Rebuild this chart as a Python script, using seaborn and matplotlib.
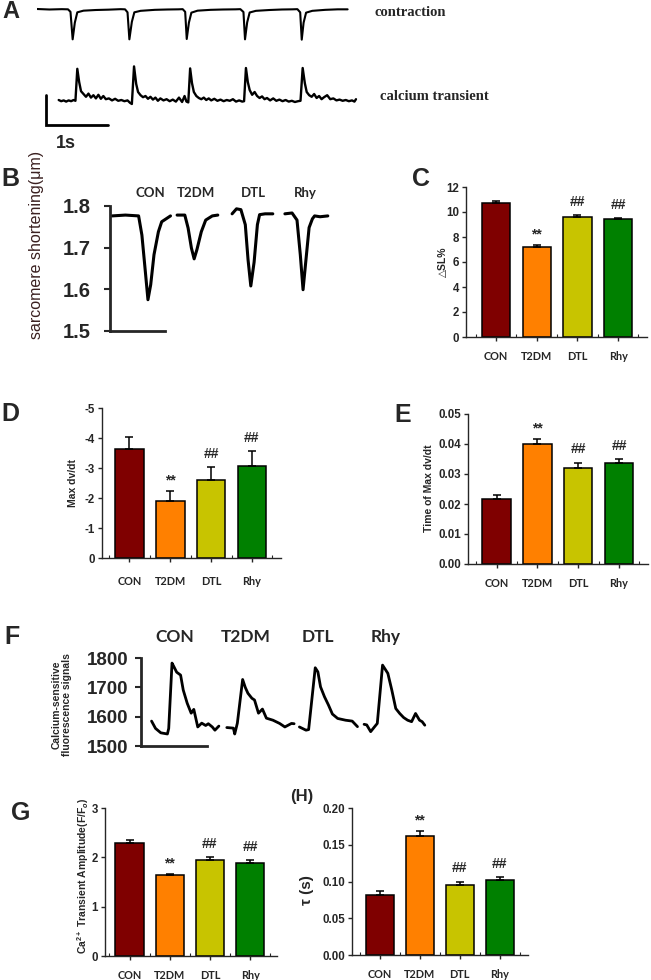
import numpy as np
import pandas as pd
import matplotlib
matplotlib.use("Agg")
import matplotlib.pyplot as plt
import seaborn as sns

W, H = 651, 980

groups = ["CON", "T2DM", "DTL", "Rhy"]
colors = ["#7f0000", "#ff8000", "#c8c400", "#008000"]
marks = ["", "**", "##", "##"]

# bar panels: mean and SEM
sl_pct = [10.72, 7.18, 9.57, 9.42]
sl_err = [0.15, 0.18, 0.21, 0.10]
max_dvdt = [-3.63, -1.90, -2.60, -3.08]
max_dvdt_err = [0.40, 0.33, 0.44, 0.49]
t_max_dvdt = [0.0216, 0.0399, 0.0321, 0.0337]
t_max_dvdt_err = [0.0014, 0.0017, 0.0017, 0.0014]
ca_amp = [2.30, 1.64, 1.95, 1.89]
ca_amp_err = [0.06, 0.025, 0.055, 0.055]
tau = [0.081, 0.162, 0.095, 0.1015]
tau_err = [0.006, 0.007, 0.005, 0.005]

# panel A raw traces (time in s)
contr_t = [0.00, 0.20, 0.40, 0.50, 0.54, 0.575, 0.61, 0.65, 0.75, 0.95,
           1.15, 1.35, 1.42, 1.46, 1.49, 1.53, 1.57, 1.67, 1.90, 2.10,
           2.28, 2.35, 2.39, 2.415, 2.45, 2.49, 2.59, 2.80, 3.00, 3.20,
           3.28, 3.33, 3.355, 3.39, 3.43, 3.53, 3.75, 3.95, 4.12, 4.20,
           4.245, 4.27, 4.30, 4.34, 4.44, 4.65, 4.85, 5.01]
contr_y = [1.782, 1.779, 1.781, 1.780, 1.765, 1.600, 1.700, 1.762, 1.772, 1.776,
           1.778, 1.781, 1.780, 1.762, 1.600, 1.705, 1.762, 1.771, 1.777, 1.779,
           1.780, 1.781, 1.765, 1.602, 1.700, 1.760, 1.772, 1.777, 1.779, 1.780,
           1.781, 1.764, 1.600, 1.702, 1.761, 1.771, 1.776, 1.779, 1.780, 1.781,
           1.762, 1.598, 1.700, 1.760, 1.771, 1.777, 1.780, 1.780]
ca_t = [0.35, 0.39, 0.43, 0.47, 0.51, 0.55, 0.59, 0.62,
        0.65, 0.68, 0.71, 0.75, 0.79, 0.83, 0.87, 0.91, 0.95, 0.99, 1.03, 1.07,
        1.11, 1.16, 1.21, 1.26, 1.31, 1.36, 1.41, 1.46, 1.50, 1.53,
        1.565, 1.60, 1.63, 1.67, 1.71, 1.75, 1.79, 1.83, 1.87, 1.91, 1.95, 1.99,
        2.04, 2.09, 2.14, 2.19, 2.24, 2.29, 2.34, 2.38, 2.41, 2.44,
        2.47, 2.50, 2.53, 2.57, 2.61, 2.65, 2.69, 2.73, 2.77, 2.81, 2.86, 2.91,
        2.96, 3.01, 3.06, 3.11, 3.16, 3.21, 3.26, 3.31, 3.34,
        3.37, 3.40, 3.43, 3.47, 3.51, 3.55, 3.59, 3.63, 3.67, 3.71, 3.76, 3.81,
        3.86, 3.91, 3.96, 4.01, 4.06, 4.11, 4.16, 4.21, 4.25,
        4.285, 4.32, 4.35, 4.39, 4.43, 4.47, 4.51, 4.55, 4.59, 4.63, 4.68, 4.73,
        4.78, 4.83, 4.88, 4.93, 4.98, 5.03, 5.08, 5.12, 5.145]
ca_y = [1.00, 0.97, 0.99, 0.96, 0.99, 0.97, 1.00, 0.98,
        1.78, 1.45, 1.22, 1.15, 1.08, 1.16, 1.06, 1.12, 1.04, 1.13, 1.03, 1.10,
        1.02, 1.04, 0.99, 1.03, 0.98, 1.00, 0.97, 0.99, 0.93, 0.90,
        1.84, 1.40, 1.20, 1.12, 1.07, 1.10, 1.03, 1.08, 1.01, 1.06, 0.98, 1.04,
        0.99, 1.02, 0.97, 1.01, 0.96, 1.06, 0.95, 1.10, 0.96, 0.94,
        1.79, 1.42, 1.20, 1.10, 1.05, 1.02, 1.06, 1.00, 1.04, 0.99, 1.03, 0.98,
        1.01, 0.97, 1.00, 0.98, 1.02, 0.96, 0.99, 0.96, 0.97,
        1.80, 1.45, 1.25, 1.13, 1.20, 1.10, 1.05, 1.09, 1.02, 1.05, 0.99, 1.04,
        0.98, 1.01, 0.97, 1.00, 0.96, 0.98, 0.95, 0.97, 0.98,
        1.80, 1.42, 1.20, 1.12, 1.08, 1.15, 1.05, 1.10, 1.02, 1.07, 1.12, 1.02,
        1.04, 0.99, 1.01, 0.98, 1.00, 0.97, 0.99, 0.96, 1.02]

# panel B sarcomere length traces (s, um)
sl_traces = {
    "CON": ([0.02, 0.14, 0.26, 0.29, 0.32, 0.345, 0.37, 0.40, 0.44, 0.47, 0.55],
            [1.776, 1.778, 1.776, 1.730, 1.646, 1.575, 1.611, 1.683, 1.738, 1.762, 1.776]),
    "T2DM": ([0.61, 0.68, 0.71, 0.74, 0.765, 0.79, 0.83, 0.87, 0.93, 0.98],
             [1.778, 1.778, 1.747, 1.699, 1.673, 1.695, 1.738, 1.766, 1.776, 1.778]),
    "DTL": ([1.11, 1.15, 1.19, 1.23, 1.255, 1.28, 1.31, 1.34, 1.36, 1.41, 1.48],
            [1.781, 1.793, 1.791, 1.755, 1.671, 1.608, 1.665, 1.755, 1.779, 1.781, 1.781]),
    "Rhy": ([1.59, 1.655, 1.70, 1.73, 1.755, 1.78, 1.81, 1.84, 1.86, 1.91, 1.98],
            [1.781, 1.783, 1.766, 1.683, 1.599, 1.667, 1.748, 1.769, 1.776, 1.774, 1.776]),
}

# panel F calcium fluorescence traces (s, a.u.)
fl_traces = {
    "CON": ([0.08, 0.11, 0.15, 0.20, 0.21, 0.235, 0.25, 0.27, 0.30, 0.32, 0.35,
             0.38, 0.40, 0.43, 0.46, 0.49, 0.51, 0.54, 0.56, 0.59],
            [1585, 1560, 1545, 1541, 1560, 1783, 1770, 1752, 1742, 1691, 1646,
             1612, 1625, 1565, 1578, 1570, 1576, 1565, 1554, 1568]),
    "T2DM": ([0.65, 0.70, 0.71, 0.73, 0.77, 0.79, 0.81, 0.84, 0.86, 0.89, 0.92,
              0.95, 1.00, 1.05, 1.09, 1.14, 1.16],
             [1563, 1561, 1541, 1578, 1727, 1700, 1680, 1663, 1657, 1612, 1626,
              1595, 1588, 1577, 1565, 1577, 1576]),
    "DTL": ([1.20, 1.25, 1.27, 1.32, 1.34, 1.36, 1.39, 1.42, 1.45, 1.49, 1.55, 1.60, 1.64],
            [1565, 1554, 1556, 1767, 1753, 1702, 1668, 1640, 1609, 1594, 1588, 1585, 1566]),
    "Rhy": ([1.69, 1.71, 1.74, 1.77, 1.79, 1.83, 1.87, 1.90, 1.93, 1.96, 1.99,
             2.02, 2.05, 2.08, 2.11, 2.13, 2.15],
            [1574, 1572, 1549, 1566, 1577, 1776, 1748, 1691, 1628, 1611, 1597,
             1588, 1583, 1611, 1588, 1583, 1571]),
}

sns.set_style("ticks")
plt.rcParams["font.family"] = ["Liberation Sans", "DejaVu Sans"]
plt.rcParams["font.weight"] = "bold"
plt.rcParams["axes.unicode_minus"] = False
plt.rcParams["mathtext.fontset"] = "custom"
plt.rcParams["mathtext.rm"] = "Liberation Sans:bold"
plt.rcParams["mathtext.it"] = "Liberation Sans:italic:bold"
plt.rcParams["axes.linewidth"] = 1.0

fig = plt.figure(figsize=(W / 100, H / 100), dpi=100)


def px_rect(left, top, right, bottom):
    return [left / W, 1 - bottom / H, (right - left) / W, (bottom - top) / H]


def fig_text(x, y, s, **kw):
    kw.setdefault("ha", "center")
    kw.setdefault("va", "center")
    kw.setdefault("fontweight", "bold")
    fig.text(x / W, 1 - y / H, s, **kw)


def bar_panel(rect, vals, errs, ylim, ticks, fmt, xlim, pad=7):
    ax = fig.add_axes(rect)
    df = pd.DataFrame({"group": groups, "value": vals})
    sns.barplot(data=df, x="group", y="value", hue="group", palette=colors,
                saturation=1, width=0.7, edgecolor="black", linewidth=1.1,
                errorbar=None, legend=False, ax=ax)
    neg = vals[0] < 0
    zeros = [0] * len(vals)
    yerr = [errs, zeros] if neg else [zeros, errs]
    ax.errorbar(range(len(vals)), vals, yerr=yerr, fmt="none", ecolor="black",
                elinewidth=1.1, capsize=3.2, capthick=1.1, zorder=1)
    for i, (m, v, e) in enumerate(zip(marks, vals, errs)):
        if not m:
            continue
        top = v - e if neg else v + e
        off = 9.5 if m == "##" else 7.5
        ax.annotate(m, (i, top), xytext=(0, off), textcoords="offset points",
                    ha="center", va="center", fontsize=10, fontweight="bold")
    ax.set_xlim(*xlim)
    ax.set_ylim(*ylim)
    ax.set_xlabel("")
    ax.set_ylabel("")
    sns.despine(ax=ax)
    ax.set_yticks(ticks, [fmt.format(t) for t in ticks], fontsize=8.3, fontweight="bold")
    ax.set_xticks(range(len(groups)), groups, fontsize=7.8, fontfamily="Lato",
                  fontweight="bold")
    ax.set_xticks([-0.5, 0.5, 1.5, 2.5, 3.5], minor=True)
    ax.tick_params(axis="y", direction="out", length=3, width=1, pad=2)
    ax.tick_params(axis="x", which="major", direction="out", length=3, width=1, pad=pad)
    ax.tick_params(axis="x", which="minor", direction="in", length=2, width=0.8)
    return ax


def trace_panel(rect, traces, xlim, ylim, ticks, fmt, bar_len, label_y, label_size,
                tick_size, tick_pad, lw):
    ax = fig.add_axes(rect)
    for name, (t, y) in traces.items():
        sns.lineplot(x=t, y=y, estimator=None, sort=False, color="black", lw=lw, ax=ax)
        peak = np.argmin(y) if ylim[0] < 10 else np.argmax(y)
        ax.text(t[peak] + 0.02, label_y, name, transform=ax.get_xaxis_transform(),
                ha="center", va="center", fontsize=label_size, fontfamily="Lato",
                fontweight="bold")
    ax.set_xlim(*xlim)
    ax.set_ylim(*ylim)
    sns.despine(ax=ax)
    ax.spines["left"].set_linewidth(2)
    ax.spines["bottom"].set_linewidth(2)
    ax.spines["left"].set_bounds(ticks[0], ticks[-1])
    ax.spines["bottom"].set_bounds(0, bar_len)
    ax.set_xticks([])
    ax.set_yticks(ticks, [fmt.format(v) for v in ticks], fontsize=tick_size,
                  fontweight="bold")
    ax.tick_params(axis="y", direction="out", length=4, width=1.5, pad=tick_pad)
    return ax


# ---- A: raw traces
axc = fig.add_axes(px_rect(37, 0, 360, 50))
sns.lineplot(x=contr_t, y=contr_y, estimator=None, sort=False, color="black", lw=1.5, ax=axc)
axc.set_xlim(0, 323 / 62)
axc.set_ylim(1.536, 1.836)
axc.axis("off")

axca = fig.add_axes(px_rect(37, 55, 360, 135))
sns.lineplot(x=ca_t, y=ca_y, estimator=None, sort=False, color="black", lw=1.7, ax=axca)
axca.set_xlim(0, 323 / 62)
axca.set_ylim(0.125, 2.125)
axca.axis("off")
# scale bar: 1 s
axca.plot([0.14, 0.14, 1.14], [1.125, 0.375, 0.375], color="black", lw=2,
          solid_joinstyle="miter", clip_on=False)

fig_text(11, 12, "A", fontsize=17)
fig_text(375, 12, "contraction", ha="left", fontsize=10.5, fontfamily="Liberation Serif")
fig_text(380, 96, "calcium transient", ha="left", fontsize=10.5,
         fontfamily="Liberation Serif")
fig_text(66, 144, "1s", fontsize=13)

# ---- B: sarcomere shortening
trace_panel(px_rect(110, 200, 335, 331), sl_traces, (0, 225 / 110),
            (1.5, 1.5 + 131 / 417), [1.5, 1.6, 1.7, 1.8], "{:.1f}", 0.5,
            1.055, 9.5, 14.5, 10, 2.2)
fig_text(10, 179, "B", fontsize=18)
fig_text(37, 245, "sarcomere shortening(μm)", rotation=90, fontsize=11.5,
         fontweight="normal", color="#3a2020")

# ---- C
bar_panel(px_rect(466, 187, 647, 337), sl_pct, sl_err, (0, 12), list(range(0, 13, 2)),
          "{:g}", (-0.74, 3.71))
fig_text(421, 179, "C", fontsize=18)
fig_text(443, 262, "△SL%", rotation=90, fontsize=7.5)

# ---- D
bar_panel(px_rect(102, 408, 281, 558), max_dvdt, max_dvdt_err, (0, -5),
          [0, -1, -2, -3, -4, -5], "{:g}", (-0.67, 3.71), pad=10)
fig_text(10, 414, "D", fontsize=18)
fig_text(73, 483, "Max dv/dt", rotation=90, fontsize=7.5)

# ---- E
bar_panel(px_rect(468, 414, 648, 564), t_max_dvdt, t_max_dvdt_err, (0, 0.05),
          [0, 0.01, 0.02, 0.03, 0.04, 0.05], "{:.2f}", (-0.70, 3.71))
fig_text(403, 415, "E", fontsize=18)
fig_text(429, 488, "Time of Max dv/dt", rotation=90, fontsize=7.5)

# ---- F: calcium fluorescence
trace_panel(px_rect(141, 655, 430, 746), fl_traces, (0, 289 / 132),
            (1500, 1500 + 91 / 0.293), [1500, 1600, 1700, 1800], "{:d}", 0.5,
            1.2, 12.5, 13.5, 5, 2.0)
fig_text(12, 637, "F", fontsize=18)
fig_text(62, 705, "Calcium-sensitive\nfluorescence signals", rotation=90, fontsize=7.5,
         linespacing=1.0)

# ---- G
bar_panel(px_rect(105, 808, 277, 956), ca_amp, ca_amp_err, (0, 3), [0, 1, 2, 3],
          "{:g}", (-0.61, 3.67))
fig_text(21, 813, "G", fontsize=18)
fig_text(83, 876, "Ca$^{2+}$ Transient Amplitude(F/F$_o$)", rotation=90, fontsize=7.5)

# ---- H
bar_panel(px_rect(352, 808, 528, 955), tau, tau_err, (0, 0.2),
          [0, 0.05, 0.10, 0.15, 0.20], "{:.2f}", (-0.69, 3.71))
fig_text(302, 796, "(H)", fontsize=12)
fig_text(307, 890, "τ (s)", rotation=90, fontsize=11)

fig.savefig("out.png", dpi=100)
